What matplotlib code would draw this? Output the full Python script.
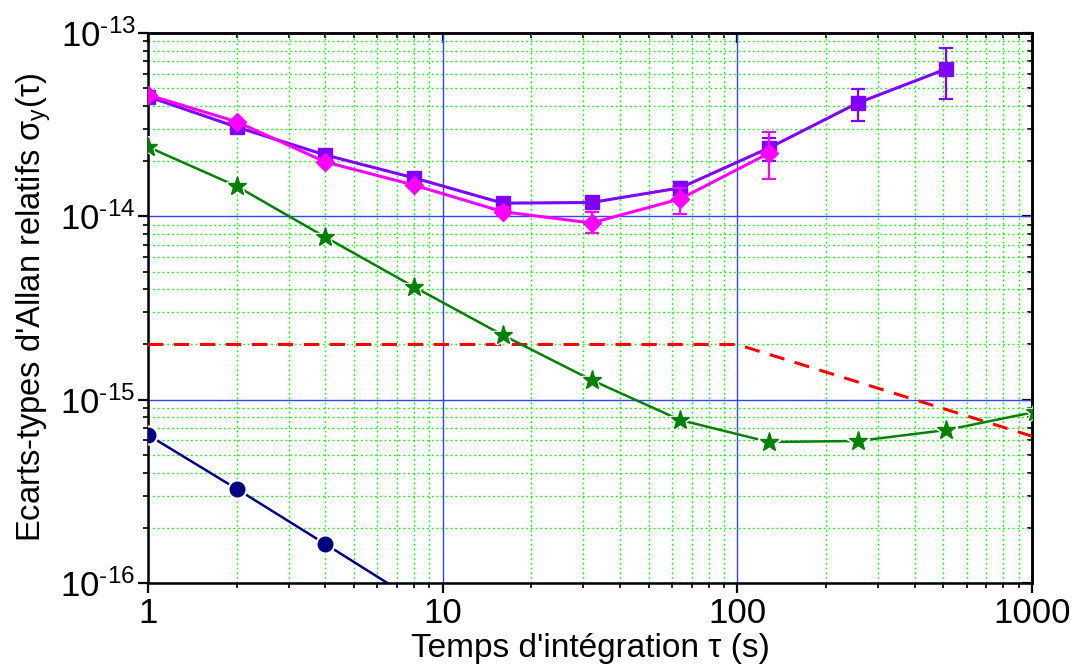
import matplotlib
matplotlib.use("Agg")
import matplotlib.pyplot as plt
import numpy as np
from matplotlib.ticker import LogLocator, FuncFormatter, NullFormatter

plt.rcParams['font.family'] = ['Liberation Sans', 'DejaVu Sans']
plt.rcParams['mathtext.default'] = 'regular'
plt.rcParams['mathtext.fontset'] = 'custom'
plt.rcParams['mathtext.rm'] = 'Liberation Sans'
plt.rcParams['mathtext.it'] = 'Liberation Sans:italic'

# ---- data ----
tau_sq = [1, 2, 4, 8, 16, 32, 64, 128, 256, 512]
sq_vals = [4.5e-14, 3.07e-14, 2.16e-14, 1.62e-14, 1.18e-14, 1.19e-14, 1.43e-14, 2.36e-14, 4.15e-14, 6.37e-14]
sq_err_lo = [0, 0, 0, 0, 0, 0, 0.12e-14, 0.36e-14, 0.84e-14, 2.0e-14]
sq_err_hi = [0, 0, 0, 0, 0, 0, 0.11e-14, 0.31e-14, 0.80e-14, 1.9e-14]

tau_dm = [1, 2, 4, 8, 16, 32, 64, 128]
dm_vals = [4.6e-14, 3.28e-14, 1.98e-14, 1.48e-14, 1.06e-14, 9.2e-15, 1.245e-14, 2.21e-14]
dm_err_lo = [0, 0, 0, 0, 0.06e-14, 1.1e-15, 0.215e-14, 0.61e-14]
dm_err_hi = [0, 0, 0, 0, 0.06e-14, 1.4e-15, 0.185e-14, 0.67e-14]

tau_st = [1, 2, 4, 8, 16, 32, 64, 128, 256, 512, 1024]
st_vals = [2.39e-14, 1.46e-14, 7.7e-15, 4.12e-15, 2.25e-15, 1.28e-15, 7.74e-16, 5.88e-16, 5.95e-16, 6.83e-16, 8.57e-16]

tau_ci = [1, 2, 4, 8, 16]
ci_vals = [6.42e-16, 3.26e-16, 1.63e-16, 8.1e-17, 4.05e-17]

tau_red = [1, 100, 1000]
red_vals = [2e-15, 2e-15, 6.32e-16]

xticks = [1, 10, 100, 1000]
xticklabels = ['1', '10', '100', '1000']
yticks = [1e-16, 1e-15, 1e-14, 1e-13]

# ---- figure ----
fig = plt.figure(figsize=(10.75, 6.68), dpi=100)
ax = fig.add_axes([148/1075, 1-583/668, (1032-148)/1075, (583-33)/668])
ax.set_xscale('log')
ax.set_yscale('log')
ax.set_xlim(1, 1000)
ax.set_ylim(1e-16, 1e-13)

# grids
ax.grid(which='minor', color='#00ff00', linestyle=(0, (1.2, 2.2)), linewidth=1.0)
ax.grid(which='major', color='#3344ff', linestyle='-', linewidth=1.0)
ax.set_axisbelow(True)

# series
ax.plot(tau_red, red_vals, color='#ff0000', linestyle=(0, (5, 3.5)), linewidth=2.2, zorder=3)

ax.plot(tau_ci, ci_vals, color='#000080', linewidth=1.8, marker='o', markersize=12,
        markeredgecolor='white', markeredgewidth=2.5, markerfacecolor='#000080', zorder=4)
ax.plot(tau_ci, ci_vals, color='none', marker='o', markersize=10.5,
        markerfacecolor='#000080', markeredgecolor='#000080', zorder=5)

ax.plot(tau_st, st_vals, color='#008000', linewidth=1.8, marker='*', markersize=16,
        markeredgecolor='white', markeredgewidth=2.5, markerfacecolor='#008000', zorder=4, clip_on=True)
ax.plot(tau_st, st_vals, color='none', marker='*', markersize=14,
        markerfacecolor='#008000', markeredgecolor='#008000', zorder=5)

ax.errorbar(tau_sq, sq_vals, yerr=[sq_err_lo, sq_err_hi], color='#8000ff', linewidth=2.2,
            marker='s', markersize=9.5, elinewidth=1.6, capsize=5, capthick=1.6, zorder=6)
ax.errorbar(tau_dm, dm_vals, yerr=[dm_err_lo, dm_err_hi], color='#ff00ff', linewidth=2.2,
            marker='D', markersize=9, elinewidth=1.6, capsize=5, capthick=1.6, zorder=7)

# ticks
ax.xaxis.set_minor_locator(LogLocator(base=10, subs=np.arange(2, 10), numticks=10))
ax.yaxis.set_minor_locator(LogLocator(base=10, subs=np.arange(2, 10), numticks=10))
ax.set_xticks(xticks)
ax.set_xticklabels(xticklabels)
ax.set_yticks(yticks)
ax.yaxis.set_major_formatter(FuncFormatter(lambda v, p: r'$10^{\text{-%d}}$' % abs(int(round(np.log10(v))))))
ax.xaxis.set_minor_formatter(NullFormatter())
ax.yaxis.set_minor_formatter(NullFormatter())
ax.tick_params(which='major', direction='out', length=7, width=1.6, labelsize=25, pad=3)
ax.tick_params(which='minor', direction='out', length=3.6, width=1.2)
ax.tick_params(axis='y', which='major', pad=2)

for s in ax.spines.values():
    s.set_linewidth(1.8)

secx = ax.secondary_xaxis('top')
secx.xaxis.set_major_locator(LogLocator(base=10, numticks=10))
secx.xaxis.set_minor_locator(LogLocator(base=10, subs=np.arange(2, 10), numticks=10))
secx.tick_params(which='major', direction='in', length=7, width=1.6, labeltop=False)
secx.tick_params(which='minor', direction='in', length=3.6, width=1.2)
secx.xaxis.set_major_formatter(NullFormatter())
secx.xaxis.set_minor_formatter(NullFormatter())
secx.spines['top'].set_linewidth(1.8)

secy = ax.secondary_yaxis('right')
secy.yaxis.set_major_locator(LogLocator(base=10, numticks=10))
secy.yaxis.set_minor_locator(LogLocator(base=10, subs=np.arange(2, 10), numticks=10))
secy.tick_params(which='major', direction='in', length=7, width=1.6, labelright=False)
secy.tick_params(which='minor', direction='in', length=3.6, width=1.2)
secy.yaxis.set_major_formatter(NullFormatter())
secy.yaxis.set_minor_formatter(NullFormatter())
secy.spines['right'].set_linewidth(1.8)

ax.set_xlabel("Temps d'intégration τ (s)", fontsize=24, labelpad=2)
ax.set_ylabel("Ecarts-types d'Allan relatifs σ$_y$(τ)", fontsize=23.5, labelpad=5)

fig.savefig('out.png', dpi=100)
